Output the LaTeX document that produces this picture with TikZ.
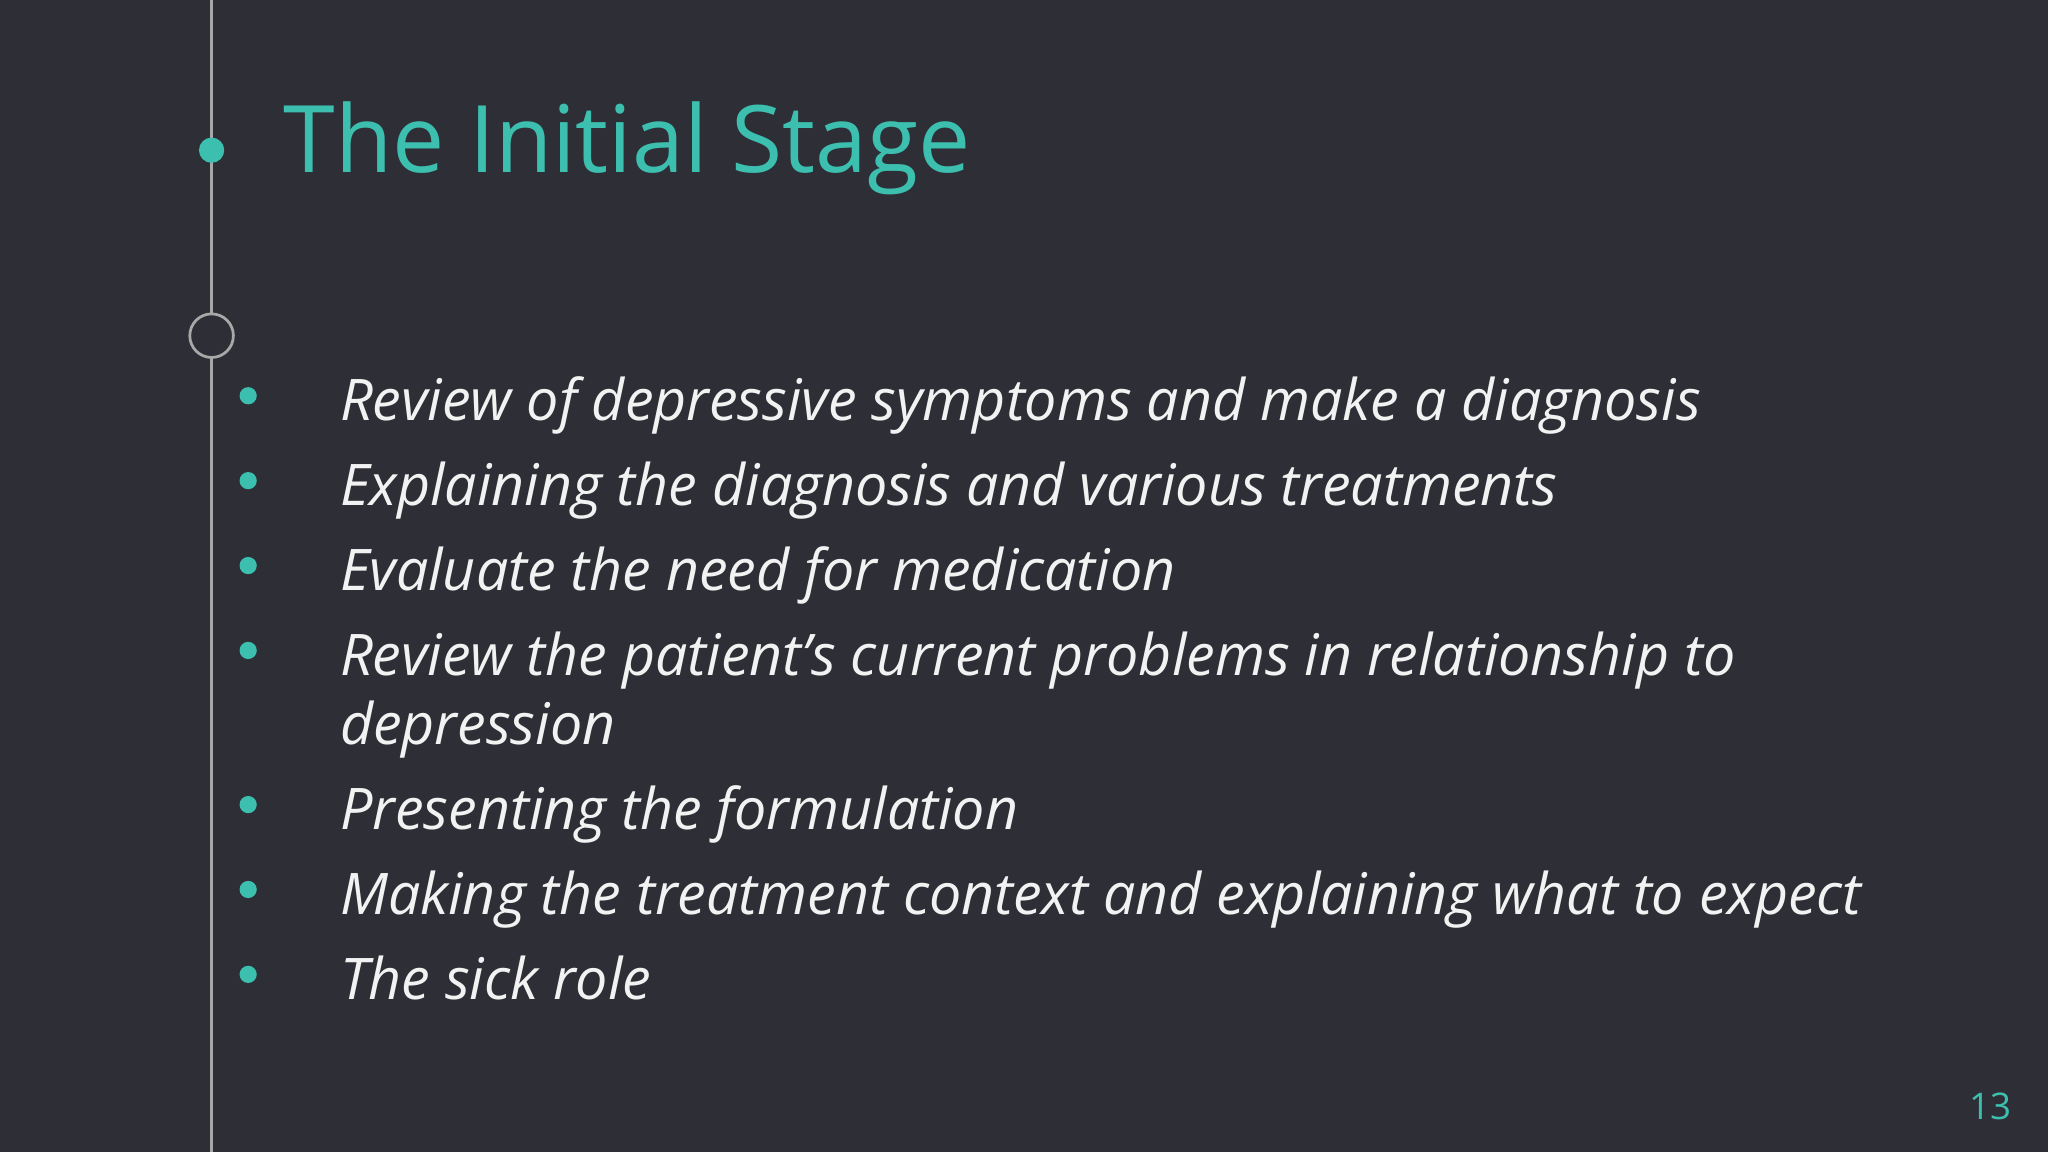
\documentclass[tikz,border=0pt]{standalone}
\usepackage{fontspec}
\setmainfont{Open Sans}
\definecolor{bg}{HTML}{2E2F36}
\definecolor{teal}{HTML}{3DBFB0}
\definecolor{txt}{HTML}{F2F2F2}
\definecolor{rule}{HTML}{A8A8A8}
\begin{document}
\begin{tikzpicture}[x=0.02cm,y=-0.02cm,
  item/.style={anchor=base west,inner sep=0,text=txt,font=\fontsize{25}{33}\selectfont\itshape},
  bul/.style={circle,fill=teal,inner sep=0,minimum size=7.5pt}]
\fill[bg] (0,0) rectangle (1568,882);
\useasboundingbox (0,0) rectangle (1568,882);
\draw[rule,line width=1.2pt] (162,0) -- (162,882);
\node[circle,fill=teal,inner sep=0,minimum size=11pt] (d1) at (162,115) {};
\node[circle,draw=rule,fill=bg,line width=1.2pt,inner sep=0,minimum size=19pt] (d2) at (162,257) {};
\node[anchor=base west,inner sep=0,text=teal,font=\fontsize{40.6}{48}\selectfont] (title) at (217,132) {The Initial Stage};
\foreach \n/\yb/\t in {1/322/Review of depressive symptoms and make a diagnosis,
  2/387/Explaining the diagnosis and various treatments,
  3/452/Evaluate the need for medication,
  4/517/Review the patient’s current problems in relationship to,
  5/635/Presenting the formulation,
  6/700/Making the treatment context and explaining what to expect,
  7/765/The sick role}{
  \node[item] (t\n) at (260,\yb) {\t};
  \node[bul] (b\n) at (190,\yb-19) {};
}
\node[item] (t4b) at (260,570) {depression};
\node[anchor=base east,inner sep=0,text=teal,font=\fontsize{16}{19}\selectfont] (pg) at (1540,857) {13};
\end{tikzpicture}
\end{document}
